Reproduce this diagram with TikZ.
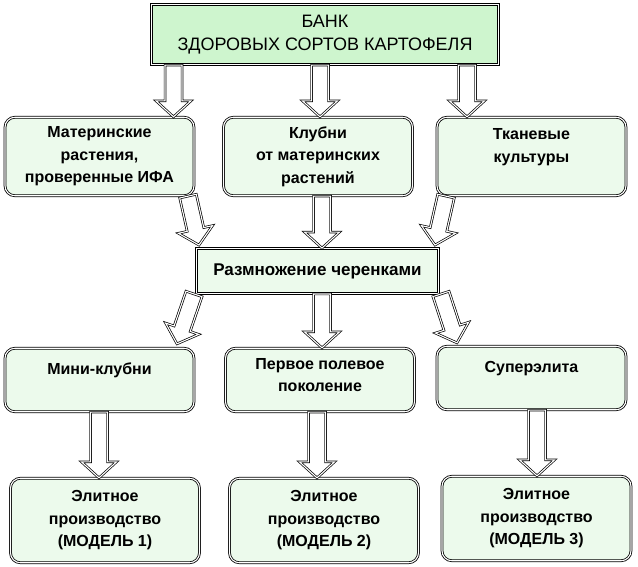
\documentclass[tikz,border=0pt]{standalone}
\usepackage{fontspec}
\setmainfont{Liberation Sans}
\usetikzlibrary{calc}
\definecolor{bankgreen}{RGB}{206,245,206}
\definecolor{palegreen}{RGB}{236,250,236}

\begin{document}
\begin{tikzpicture}[
  x=1pt, y=-1pt,
  bank/.style={rectangle, draw, double, line width=1.1pt, double distance=1pt, fill=bankgreen, minimum width=347, minimum height=60, align=center, font=\fontsize{18}{23}\selectfont},
  stage/.style={rectangle, rounded corners=10pt, draw, double, line width=0.8pt, double distance=1.1pt, fill=palegreen, minimum width=189, inner sep=0pt, align=center, font=\bfseries\fontsize{16}{22.5}\selectfont},
  hub/.style={rectangle, draw, double, line width=0.9pt, double distance=1.1pt, fill=palegreen, minimum width=242, minimum height=45, align=center, font=\bfseries\fontsize{17}{21}\selectfont},
  bigarrow/.style={draw, double, line width=0.7pt, double distance=1.1pt, fill=white,
    to path={($(\tikztostart)!8.5pt!90:(\tikztotarget)$)
      -- ($(\tikztotarget)!16pt!(\tikztostart)!8.5pt!-90:(\tikztostart)$)
      -- ($(\tikztotarget)!16pt!(\tikztostart)!17.5pt!-90:(\tikztostart)$)
      -- (\tikztotarget)
      -- ($(\tikztotarget)!16pt!(\tikztostart)!17.5pt!90:(\tikztostart)$)
      -- ($(\tikztotarget)!16pt!(\tikztostart)!8.5pt!90:(\tikztostart)$)
      -- ($(\tikztostart)!8.5pt!-90:(\tikztotarget)$) -- cycle}}
]
\useasboundingbox (0,0) rectangle (638,566);

\node[bank] (bank) at (325,34.5) {БАНК\\ЗДОРОВЫХ СОРТОВ КАРТОФЕЛЯ};

\node[stage, minimum height=78.5] (mother) at (99.5,156.5) {Материнские\\растения,\\проверенные ИФА};
\node[stage, minimum height=78.5] (tubers) at (318,156.5) {Клубни\\от материнских\\растений};
\node[stage, minimum height=78.5] (tissue) at (531.5,156.5) {Тканевые\\культуры\\\mbox{}};

\node[hub] (cutting) at (317.5,271) {Размножение черенками};

\node[stage, minimum height=63.5] (minituber) at (99.5,380) {Мини-клубни\\\mbox{}};
\node[stage, minimum height=63.5] (field) at (320,380) {Первое полевое\\поколение\\[-12pt]\mbox{}};
\node[stage, minimum height=63.5] (superelite) at (531.5,378) {Суперэлита\\\mbox{}};

\node[stage, minimum height=84.5] (elite1) at (105,520.5) {Элитное\\производство\\(МОДЕЛЬ 1)};
\node[stage, minimum height=84.5] (elite2) at (324,520.5) {Элитное\\производство\\(МОДЕЛЬ 2)};
\node[stage, minimum height=84.5] (elite3) at (536.5,518.5) {Элитное\\производство\\(МОДЕЛЬ 3)};

% bank to sources
\draw[bigarrow] ([xshift=-151.5]bank.south) to ([xshift=74]mother.north);
\draw[bigarrow] ([xshift=-5]bank.south) to ([xshift=2]tubers.north);
\draw[bigarrow] ([xshift=142]bank.south) to ([xshift=-64.5]tissue.north);

% sources to cuttings
\draw[bigarrow] ([xshift=88.5]mother.south) to ([xshift=-118.5,yshift=3]cutting.north);
\draw[bigarrow] ([xshift=4]tubers.south) to ([xshift=4.5]cutting.north);
\draw[bigarrow] ([xshift=-85.5]tissue.south) to ([xshift=117.5,yshift=3]cutting.north);

% cuttings to stages
\draw[bigarrow] ([xshift=-123.5]cutting.south) to ([xshift=77.5,yshift=4]minituber.north);
\draw[bigarrow] ([xshift=4.5]cutting.south) to ([xshift=2]field.north);
\draw[bigarrow] ([xshift=123.5]cutting.south) to ([xshift=-74.5,yshift=3]superelite.north);

% stages to elite
\draw[bigarrow] ([xshift=-0.5]minituber.south) to ([xshift=-6]elite1.north);
\draw[bigarrow] ([xshift=-3]field.south) to ([xshift=-7]elite2.north);
\draw[bigarrow] ([xshift=5.5]superelite.south) to ([xshift=0.5]elite3.north);
\end{tikzpicture}
\end{document}
